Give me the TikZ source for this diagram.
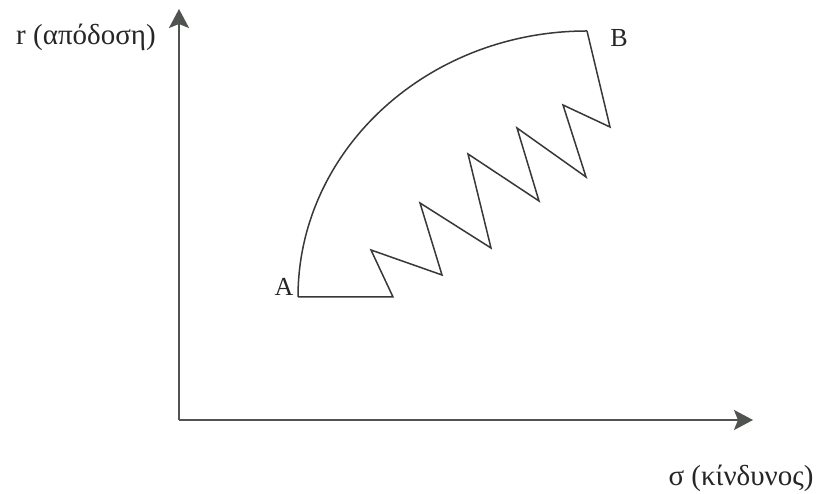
\documentclass[tikz,border=0pt]{standalone}
\usepackage{fontspec}
\setmainfont{Liberation Serif}
\usetikzlibrary{arrows.meta}
\definecolor{axisgray}{HTML}{505450}
\definecolor{linegray}{HTML}{383838}
\begin{document}
\begin{tikzpicture}[x=1pt,y=1pt,
  axis/.style={line width=2.4pt, draw=axisgray, -{Stealth[length=19pt,width=20pt,inset=4pt]}},
  curve/.style={line width=1.5pt, draw=linegray, line join=miter},
  lbl/.style={font=\fontsize{26}{30}\selectfont, text=black!85, inner sep=0pt, anchor=base},
  glbl/.style={lbl, font=\fontsize{29}{33}\selectfont}]
\useasboundingbox[fill=white] (0,0) rectangle (821,494);
% axes
\coordinate (O) at (179,74);
\coordinate (Ytop) at (179,485);
\coordinate (Xend) at (753,74);
\draw[axis] (O) -- (Ytop);
\draw[axis] (O) -- (Xend);
% points
\coordinate (A) at (298,197);
\coordinate (B) at (587,463);
\coordinate (z0) at (393,197);
\coordinate (z1) at (371,244);
\coordinate (z2) at (442,219);
\coordinate (z3) at (420,291);
\coordinate (z4) at (491,246);
\coordinate (z5) at (468,340);
\coordinate (z6) at (539,293);
\coordinate (z7) at (517,366);
\coordinate (z8) at (586,317);
\coordinate (z9) at (563,389);
\coordinate (z10) at (610,367);
% arc A -> B
\draw[curve] (A) arc[start angle=180, end angle=90, x radius=289, y radius=266];
% lower path
\draw[curve] (A) -- (z0) -- (z1) -- (z2) -- (z3) -- (z4) -- (z5) -- (z6) -- (z7) -- (z8) -- (z9) -- (z10) -- (B);
% labels
\node[glbl] (ylab) at (86,449) {r (απόδοση)};
\node[glbl] (xlab) at (741,8) {σ (κίνδυνος)};
\node[lbl] (Alab) at (284,198) {A};
\node[lbl] (Blab) at (619,447) {B};
\end{tikzpicture}
\end{document}
